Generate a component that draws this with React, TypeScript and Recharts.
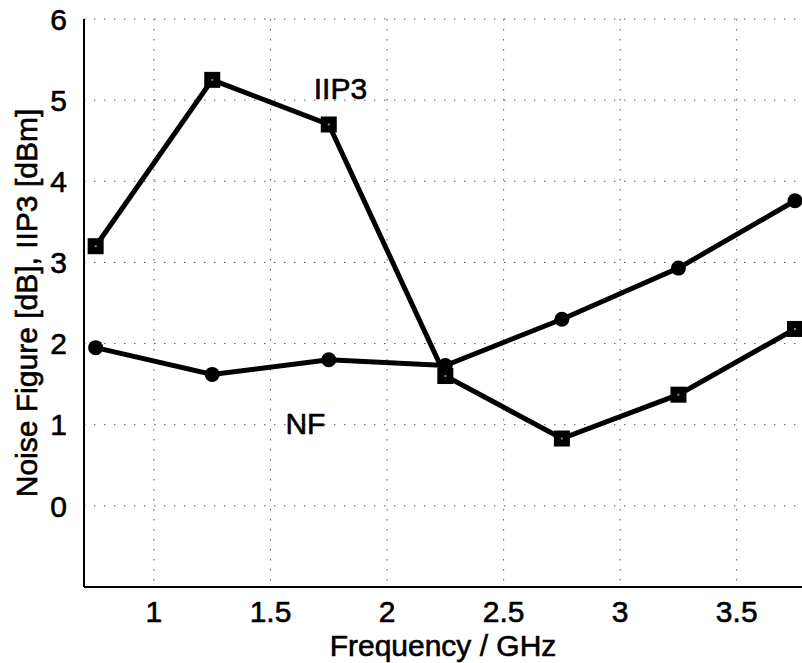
import React from 'react';
import { LineChart, Line, XAxis, YAxis, CartesianGrid, ReferenceDot } from 'recharts';

const freqs = [0.75, 1.25, 1.75, 2.25, 2.75, 3.25, 3.75];
const nfValues = [1.95, 1.62, 1.8, 1.73, 2.3, 2.93, 3.76];
const iip3Values = [3.2, 5.25, 4.7, 1.6, 0.83, 1.37, 2.18];
const xTicks = [1, 1.5, 2, 2.5, 3, 3.5];
const yTicks = [0, 1, 2, 3, 4, 5, 6];

const data = freqs.map((f, i) => ({ f, nf: nfValues[i], iip3: iip3Values[i] }));

const font = 'Liberation Sans, Arial, Helvetica, sans-serif';
const textStyle = { fill: '#000', fontSize: 30, fontFamily: font, stroke: '#000', strokeWidth: 0.6 };

// filled square marker with the small light centre MATLAB leaves
const SquareDot = (props: any) => {
  const { cx, cy } = props;
  if (cx == null || cy == null) return null;
  return (
    <g>
      <rect x={cx - 8} y={cy - 8} width={16} height={16} fill="#000" />
      <rect x={cx - 1} y={cy - 1} width={2} height={2} fill="#888" />
    </g>
  );
};

const CircleDot = (props: any) => {
  const { cx, cy } = props;
  if (cx == null || cy == null) return null;
  return <circle cx={cx} cy={cy} r={7.5} fill="#000" />;
};

export default function App() {
  return (
    <div style={{ position: 'absolute', left: 0, top: 0, width: 802, height: 663, background: '#fff', overflow: 'hidden' }}>
      <LineChart width={802} height={663} data={data} margin={{ top: 19, right: 0, bottom: 26, left: 24 }}>
        <CartesianGrid stroke="#555" strokeDasharray="1.5 8.5" vertical horizontal verticalValues={xTicks} horizontalValues={yTicks} />
        <XAxis
          type="number"
          dataKey="f"
          domain={[0.7, 3.78]}
          ticks={xTicks}
          allowDataOverflow
          height={50}
          tickLine={false}
          axisLine={{ stroke: '#000', strokeWidth: 2 }}
          tick={textStyle}
          tickMargin={8}
          label={{ value: 'Frequency / GHz', position: 'insideBottom', offset: -19, ...textStyle }}
        />
        <YAxis
          type="number"
          domain={[-1, 6]}
          ticks={yTicks}
          allowDataOverflow
          width={60}
          tickLine={false}
          axisLine={{ stroke: '#000', strokeWidth: 2 }}
          tick={textStyle}
          tickMargin={11}
          label={{ value: 'Noise Figure [dB], IIP3 [dBm]', angle: -90, position: 'insideLeft', offset: 2, style: { textAnchor: 'middle' }, ...textStyle }}
        />
        <Line dataKey="iip3" stroke="#000" strokeWidth={5} dot={<SquareDot />} activeDot={false} isAnimationActive={false} />
        <Line dataKey="nf" stroke="#000" strokeWidth={5} dot={<CircleDot />} activeDot={false} isAnimationActive={false} />
        <ReferenceDot x={1.8} y={5.15} r={0} label={{ value: 'IIP3', position: 'center', ...textStyle }} />
        <ReferenceDot x={1.65} y={1.02} r={0} label={{ value: 'NF', position: 'center', ...textStyle }} />
      </LineChart>
    </div>
  );
}
